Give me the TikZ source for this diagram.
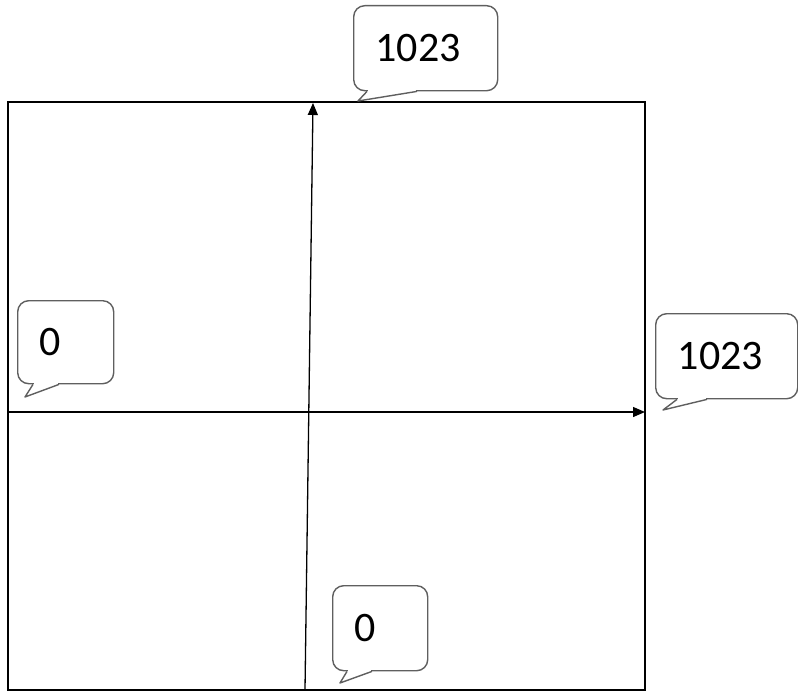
\documentclass[tikz,border=0pt]{standalone}
\usepackage{fontspec}
\setmainfont{Carlito}
\usepackage{tikz}
\usetikzlibrary{arrows.meta,calc,positioning}
\definecolor{bubblegray}{RGB}{95,95,95}

% tail of a speech bubble: node, left and right offset of the base, tip
\newcommand{\bubbletail}[4]{%
  \fill[white] ($(#1.south west)+(#2,0)$) -- (#4) -- ($(#1.south west)+(#3,0)$) -- cycle;
  \fill[white] ($(#1.south west)+(#2+1,-1.2)$) rectangle ($(#1.south west)+(#3-1,1.2)$);
  \draw[bubbleline] ($(#1.south west)+(#2,0)$) -- (#4) -- ($(#1.south west)+(#3,0)$);
}

\begin{document}
\begin{tikzpicture}[
        x=1pt, y=-1pt,
        bubbleline/.style={draw=bubblegray, line width=1.4pt, line join=round},
        bubble/.style 2 args={rectangle, rounded corners=11pt, bubbleline, fill=white,
            anchor=north west, text width=#1, minimum height=#2,
            inner xsep=22pt, inner ysep=0pt, align=left,
            font=\fontsize{42}{46}\selectfont},
        axis/.style={line width=1.3pt, -{Triangle[length=12pt,width=10pt]}}
    ]
        \useasboundingbox (0,0) rectangle (798,693);

        % square frame
        \coordinate (nw) at (8,102);
        \coordinate (se) at (645,690);
        \draw[line width=1.5pt] (nw) rectangle (se);

        % axes
        \coordinate (xstart) at (8,412);
        \coordinate (xend) at (645,412);
        \coordinate (ystart) at (305,690);
        \coordinate (yend) at (313,103);
        \draw[axis] (xstart) -- (xend);
        \draw[axis] (ystart) -- (yend);

        % labels
        \coordinate (toptip) at (358,101);
        \coordinate (lefttip) at (25,397);
        \coordinate (righttip) at (663,410);
        \coordinate (bottip) at (340,683);

        \node[bubble={100pt}{85pt}] (ymax) at (353,5) {1023};
        \bubbletail{ymax}{14}{64}{toptip}
        \node[bubble={52pt}{83pt}] (xmin) at (17,300) {0};
        \bubbletail{xmin}{16}{42}{lefttip}
        \node[bubble={98pt}{85pt}] (xmax) at (655,313) {1023};
        \bubbletail{xmax}{22}{52}{righttip}
        \node[bubble={51pt}{85pt}] (ymin) at (332,585) {0};
        \bubbletail{ymin}{15}{40}{bottip}
    \end{tikzpicture}
\end{document}
